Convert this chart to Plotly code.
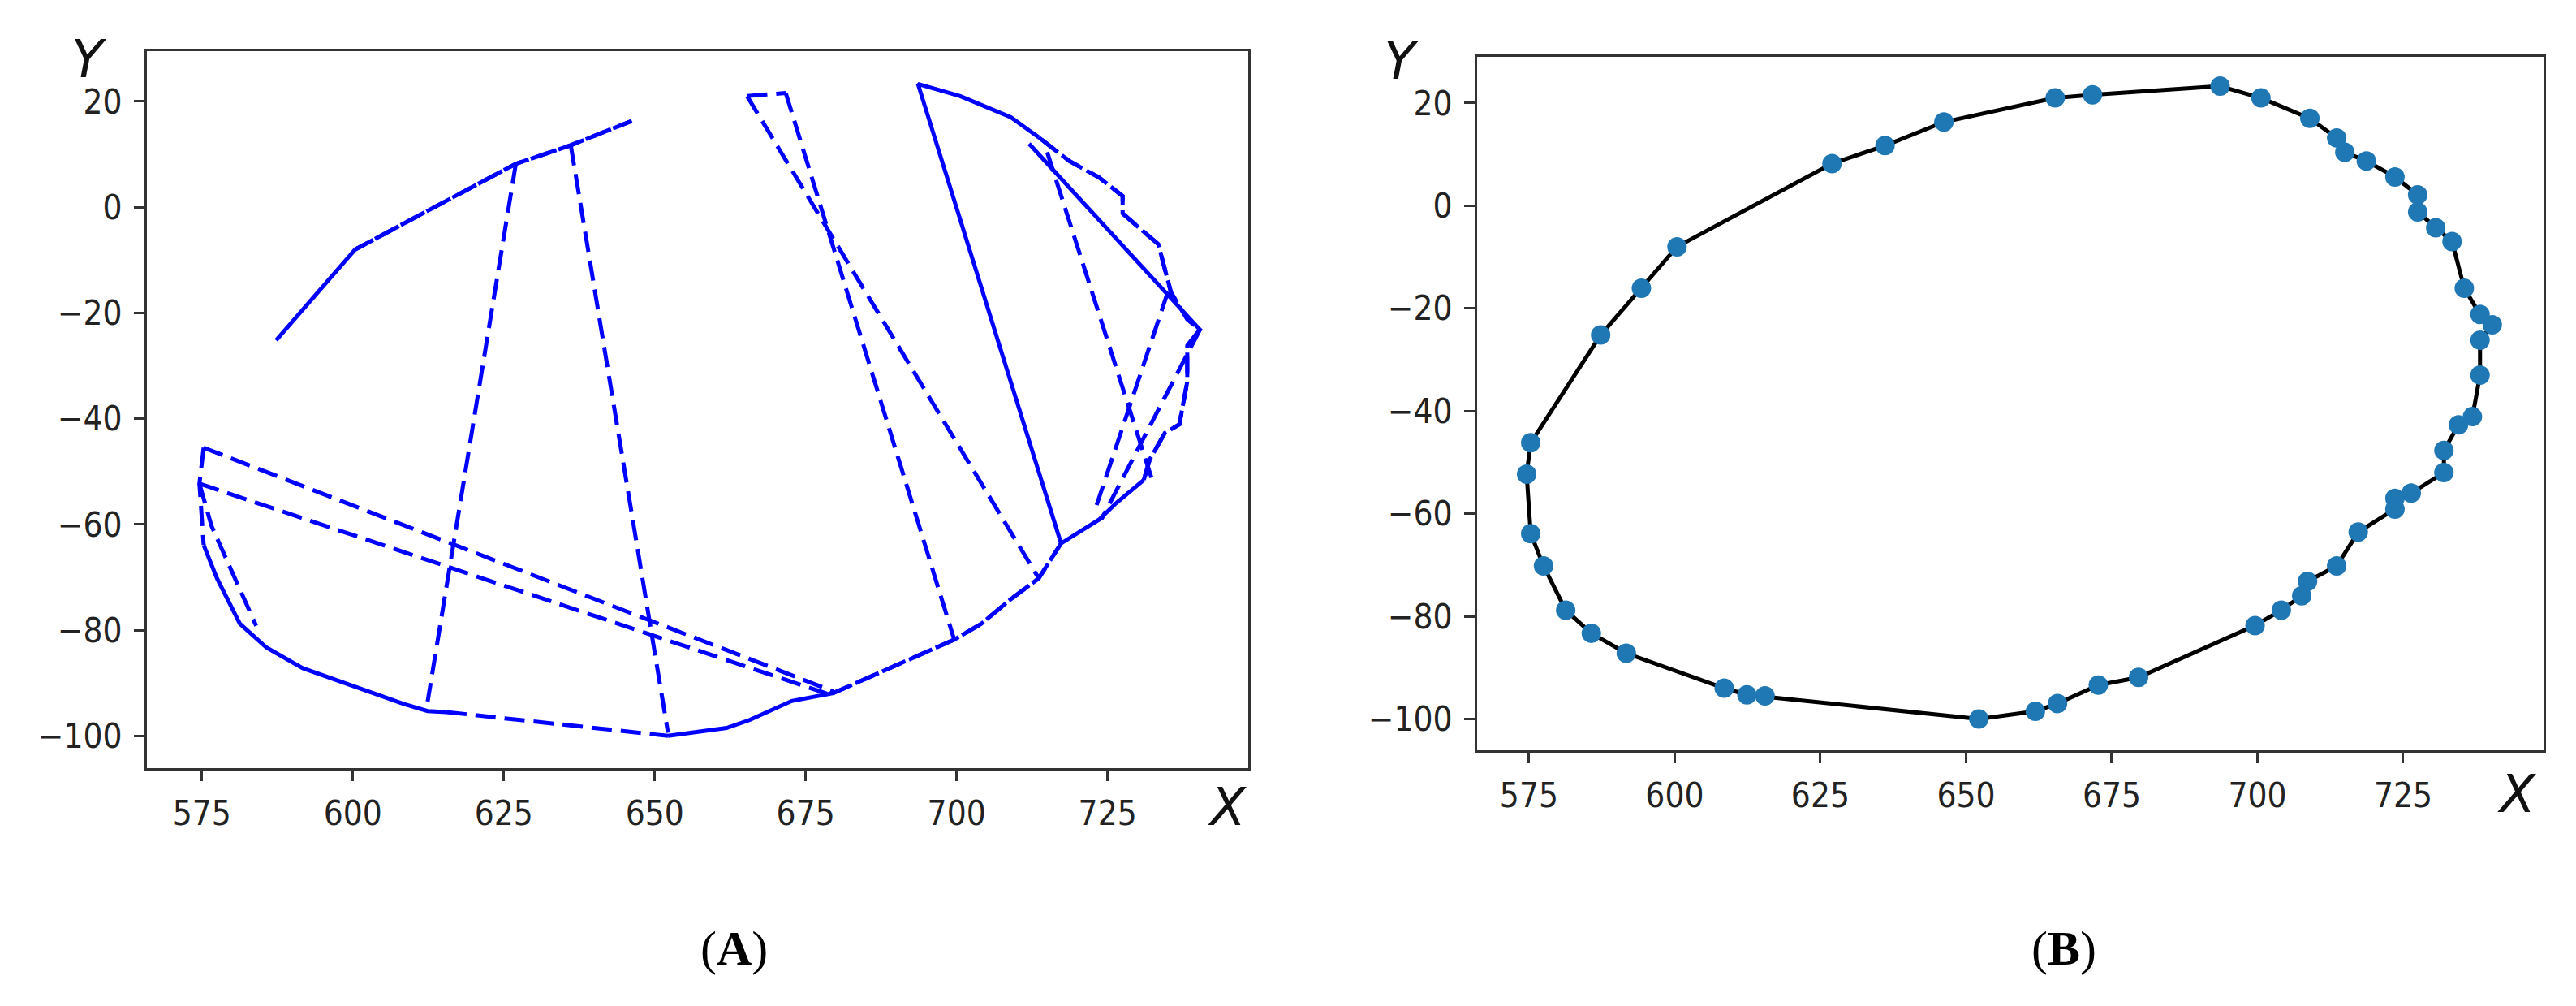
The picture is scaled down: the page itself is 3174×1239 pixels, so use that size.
import plotly.graph_objects as go

# ---------------------------------------------------------------------------
# Data
# ---------------------------------------------------------------------------

# (B) ordered contour points, clockwise from the top
contour_x = [693.6, 700.6, 709.0, 713.6, 715.0, 718.7, 723.6, 727.5, 727.5, 730.6,
             733.4, 735.5, 738.2, 740.3, 738.2, 738.2, 736.9, 734.5, 732.0, 732.0,
             726.4, 723.6, 723.6, 717.3, 713.6, 708.6, 707.6, 704.1, 699.6, 679.6,
             672.7, 665.7, 661.9, 652.2, 615.5, 612.4, 608.5, 591.7, 585.7, 581.3,
             577.5, 575.3, 574.6, 575.3, 587.3, 594.3, 600.4, 627.0, 636.1, 646.2,
             665.3, 671.7]
contour_y = [23.3, 21.0, 17.0, 13.2, 10.4, 8.7, 5.6, 2.1, -1.2, -4.3,
             -7.0, -16.1, -21.2, -23.2, -26.2, -33.0, -41.1, -42.7, -47.7, -52.0,
             -56.0, -57.0, -59.1, -63.6, -70.2, -73.2, -76.0, -78.8, -81.8, -91.9,
             -93.4, -97.0, -98.5, -100.0, -95.5, -95.3, -94.0, -87.2, -83.3, -78.8,
             -70.2, -63.9, -52.3, -46.2, -25.2, -16.1, -8.0, 8.2, 11.7, 16.3,
             21.0, 21.6]

# (A) raw trajectory: parts that read as solid strokes (None = break)
solid_x = [587.3, 600.4, None,
           717.3, 693.6, 700.6, 709.0, 713.6, None,
           712.0, 740.3, None,
           652.2, 661.9, 665.7, 672.7, 679.6, None,
           717.3, 723.6, 726.4, 731.0, None,
           575.3, 577.5, 581.3, 585.7, 591.7, 608.5, 612.4, 615.5]
solid_y = [-25.2, -8.0, None,
           -63.6, 23.3, 21.0, 17.0, 13.2, None,
           12.0, -23.2, None,
           -100.0, -98.5, -97.0, -93.4, -91.9, None,
           -63.6, -59.1, -56.0, -51.6, None,
           -63.9, -70.2, -78.8, -83.3, -87.2, -94.0, -95.3, -95.5]

# (A) raw trajectory: dashed jumps and overlapping passes
dashed_x = [600.4, 627.0, 636.1, 646.2, None,
            646.2, 636.1, 627.0, 600.4, None,
            627.0, 612.4, None,
            636.1, 652.2, None,
            665.3, 671.7, None,
            665.3, 713.6, None,
            671.7, 699.6, None,
            575.3, 679.6, None,
            574.6, 678.5, None,
            575.3, 574.6, 575.3, None,
            574.6, 576.6, 584.0, None,
            615.5, 652.2, None,
            679.6, 699.6, 704.1, 708.6, 713.6, 717.3, None,
            717.3, 713.6, 708.6, 704.1, 699.6, 679.6, None,
            715.0, 732.5, None,
            735.0, 723.0, None,
            740.3, 724.0, None,
            713.6, 718.7, 723.6, 727.5, 727.5, 730.6, 733.4, 735.5, 738.2, 740.3,
            738.2, 738.2, 736.9, 734.5, 732.0, 731.0, None,
            731.0, 732.0, 734.5, 736.9, 738.2, 738.2, 740.3, 738.2, 735.5, 733.4,
            730.6, 727.5, 727.5, 723.6, 718.7, 713.6]
dashed_y = [-8.0, 8.2, 11.7, 16.3, None,
            16.3, 11.7, 8.2, -8.0, None,
            8.2, -93.5, None,
            11.7, -99.4, None,
            21.0, 21.6, None,
            21.0, -70.2, None,
            21.6, -81.8, None,
            -45.5, -91.6, None,
            -52.3, -92.0, None,
            -45.5, -52.3, -63.9, None,
            -52.3, -60.3, -79.2, None,
            -95.5, -100.0, None,
            -91.9, -81.8, -78.8, -74.5, -70.2, -63.6, None,
            -63.6, -70.2, -74.5, -78.8, -81.8, -91.9, None,
            10.4, -52.0, None,
            -16.0, -57.0, None,
            -23.2, -59.0, None,
            13.2, 8.7, 5.6, 2.1, -1.2, -4.3, -7.0, -16.1, -21.2, -23.2,
            -26.2, -33.0, -41.1, -42.7, -47.7, -51.6, None,
            -51.6, -47.7, -42.7, -41.1, -33.0, -26.2, -23.2, -21.2, -16.1, -7.0,
            -4.3, -1.2, 2.1, 5.6, 8.7, 13.2]

x_ticks = [575, 600, 625, 650, 675, 700, 725]
y_ticks = [-100, -80, -60, -40, -20, 0, 20]
y_tick_text = ["\u2212100", "\u221280", "\u221260", "\u221240", "\u221220", "0", "20"]

panel_labels = ["(<b>A</b>)", "(<b>B</b>)"]

W, H = 3174, 1239
TICK_FONT = dict(family="DejaVu Sans Condensed, Liberation Sans Narrow, DejaVu Sans",
                 size=42, color="#222")

fig = go.Figure()

# --- (A) ---
fig.add_trace(go.Scatter(
    x=dashed_x, y=dashed_y, mode="lines", connectgaps=False,
    line=dict(color="#0000ff", width=5, dash="25px,11px"),
    xaxis="x", yaxis="y", showlegend=False,
))
fig.add_trace(go.Scatter(
    x=solid_x, y=solid_y, mode="lines", connectgaps=False,
    line=dict(color="#0000ff", width=5),
    xaxis="x", yaxis="y", showlegend=False,
))

# --- (B) ---
fig.add_trace(go.Scatter(
    x=contour_x + contour_x[:1], y=contour_y + contour_y[:1], mode="lines",
    line=dict(color="black", width=5),
    xaxis="x2", yaxis="y2", showlegend=False,
))
fig.add_trace(go.Scatter(
    x=contour_x, y=contour_y, mode="markers",
    marker=dict(color="#1f77b4", size=24),
    xaxis="x2", yaxis="y2", showlegend=False,
))

axis_style = dict(
    showgrid=False, zeroline=False, showline=True, mirror=True,
    linecolor="#333", linewidth=3,
    ticks="outside", ticklen=13, tickwidth=2.5, tickcolor="#333",
    tickfont=TICK_FONT,
)

fig.update_layout(
    width=W, height=H,
    margin=dict(l=0, r=0, t=0, b=0),
    paper_bgcolor="white", plot_bgcolor="white",
    xaxis=dict(axis_style, domain=[173 / W, 1530 / W], range=[565.9, 748.3],
               tickvals=x_ticks, anchor="y", ticklabelstandoff=4),
    yaxis=dict(axis_style, domain=[1 - 938 / H, 1 - 55 / H], range=[-106.1, 29.5],
               tickvals=y_ticks, ticktext=y_tick_text, anchor="x", ticklabelstandoff=6),
    xaxis2=dict(axis_style, domain=[1812 / W, 3126 / W], range=[566.1, 749.1],
                tickvals=x_ticks, anchor="y2", ticklabelstandoff=4),
    yaxis2=dict(axis_style, domain=[1 - 916 / H, 1 - 62 / H], range=[-106.1, 29.0],
                tickvals=y_ticks, ticktext=y_tick_text, anchor="x2", ticklabelstandoff=6),
)

# axis letters
AX_FONT = dict(family="DejaVu Sans", size=64, color="#111")
for txt, px, py in [("Y", 102, 65), ("X", 1504, 986), ("Y", 1719, 67), ("X", 3093, 970)]:
    fig.add_annotation(
        text=f"<i>{txt}</i>", x=px / W, y=1 - py / H, xref="paper", yref="paper",
        showarrow=False, font=AX_FONT, xanchor="center", yanchor="middle",
    )

# panel labels
for txt, px in zip(panel_labels, [897, 2535]):
    fig.add_annotation(
        text=txt, x=px / W, y=1 - 1160 / H, xref="paper", yref="paper",
        showarrow=False, xanchor="center", yanchor="middle",
        font=dict(family="Liberation Serif, DejaVu Serif", size=60, color="black"),
    )

fig.write_html("out.html")
